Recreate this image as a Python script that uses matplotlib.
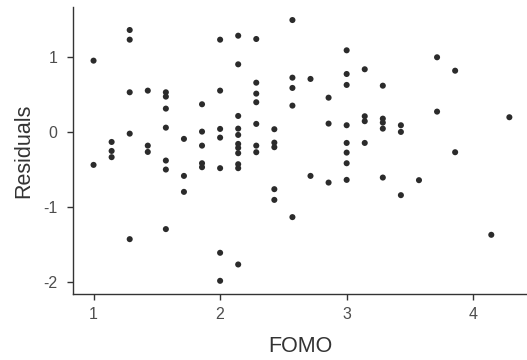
import matplotlib
matplotlib.use("Agg")
import matplotlib.pyplot as plt
import numpy as np

plt.rcParams['font.family'] = ['Liberation Sans', 'DejaVu Sans']

# FOMO scores (mean of 7 items: 1 + k/7) and residuals, grouped by FOMO level
fomo_steps = [0, 1, 2, 3, 4, 5, 6, 7, 8, 9, 10, 11, 12, 13, 14, 15, 16, 17, 18, 19, 20, 22, 23]
residuals_by_step = [
    [0.955, -0.436],
    [-0.13, -0.25, -0.333],
    [1.364, 1.235, 0.533, -0.019, -1.427],
    [0.555, -0.179, -0.263],
    [0.533, 0.475, 0.315, 0.061, -0.378, -0.498, -1.293],
    [-0.089, -0.583, -0.796],
    [0.373, 0.008, -0.179, -0.414, -0.467],
    [1.235, 0.555, 0.044, -0.072, -0.48, -1.609, -1.983],
    [1.288, 0.906, 0.217, 0.048, -0.036, -0.156, -0.209, -0.28, -0.427, -0.48, -1.765],
    [1.244, 0.661, 0.515, 0.4, 0.111, -0.179, -0.267],
    [0.04, -0.139, -0.2, -0.76, -0.903],
    [1.497, 0.728, 0.591, 0.355, -1.133],
    [0.711, -0.583],
    [0.461, 0.115, -0.672],
    [1.093, 0.777, 0.631, 0.093, -0.143, -0.272, -0.414, -0.636],
    [0.84, 0.213, 0.147, -0.143],
    [0.621, 0.181, 0.128, 0.048, -0.605],
    [0.093, 0.004, -0.84],
    [-0.64],
    [1.0, 0.275],
    [0.821, -0.267],
    [-1.369],
    [0.2],
]
x_ticks = [1, 2, 3, 4]
y_ticks = [-2, -1, 0, 1]

fomo = []
resid = []
for k, vals in zip(fomo_steps, residuals_by_step):
    for v in vals:
        fomo.append(1 + k / 7)
        resid.append(v)

fig = plt.figure(figsize=(5.27, 3.60), dpi=100)
ax = fig.add_axes([73.3 / 527, 1 - 294.3 / 360, (527 - 73.3) / 527, (294.3 - 7.3) / 360])

ax.scatter(fomo, resid, s=19, color='#2b2b2b', edgecolors='none', zorder=3)

ax.set_xlim(0.84, 4.425)
ax.set_ylim(-2.163, 1.667)
ax.set_xticks(x_ticks)
ax.set_yticks(y_ticks)
ax.set_xticklabels([str(t) for t in x_ticks])
ax.set_yticklabels([str(t) for t in y_ticks])

for side in ['top', 'right']:
    ax.spines[side].set_visible(False)
for side in ['left', 'bottom']:
    ax.spines[side].set_color('#333333')
    ax.spines[side].set_linewidth(1.0)

ax.tick_params(axis='both', colors='#333333', length=4, width=1.0,
               labelsize=11.5, labelcolor='#4d4d4d')
ax.tick_params(axis='x', pad=5)
ax.tick_params(axis='y', pad=7.5)

ax.set_xlabel('FOMO', fontsize=15.5, color='#333333', labelpad=10)
ax.set_ylabel('Residuals', fontsize=15.5, color='#333333', labelpad=6)

fig.savefig('out.png', dpi=100)
